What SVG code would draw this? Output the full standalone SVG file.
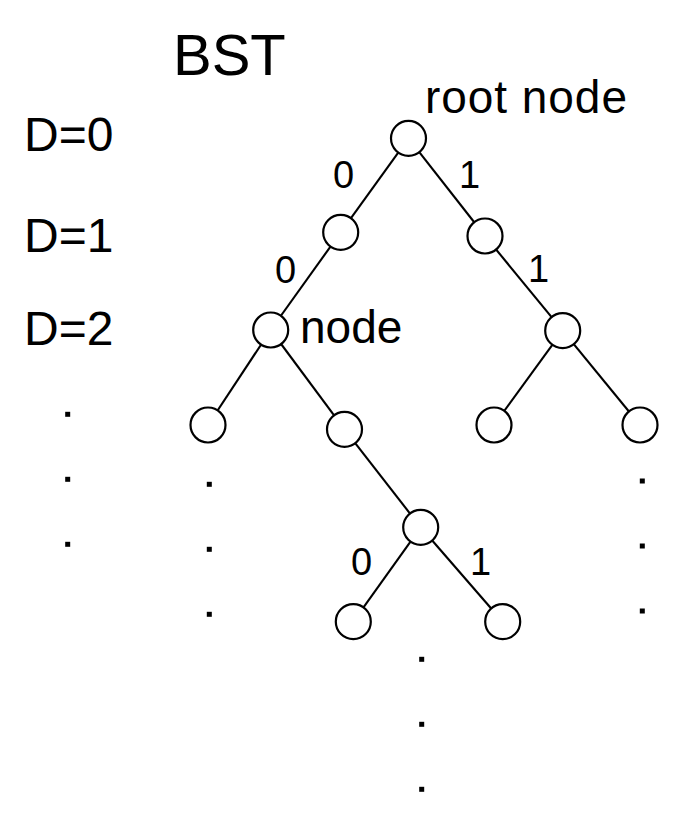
<svg xmlns="http://www.w3.org/2000/svg" width="685" height="829" viewBox="0 0 685 829">
<style>
text { font-family: "Liberation Sans", Arial, sans-serif; fill: #000; }
.big { font-size: 58px; }
.lbl { font-size: 46px; }
.depth { font-size: 48px; }
.bit { font-size: 38px; }
.node circle { fill: #fff; stroke: #000; stroke-width: 2.2; }
.edges line { stroke: #000; stroke-width: 2.1; }
.dot { fill: #000; }
</style>
<rect width="685" height="829" fill="#fff"/>
<text class="big" x="173" y="75">BST</text>
<g id="depths">
<text class="depth" x="24" y="151">D=0</text>
<text class="depth" x="24" y="252">D=1</text>
<text class="depth" x="24" y="345">D=2</text>
</g>
<g class="edges" id="connectors">
<line x1="408.5" y1="138.3" x2="340.7" y2="232.3"/>
<line x1="408.5" y1="138.3" x2="485" y2="236"/>
<line x1="340.7" y1="232.3" x2="270.7" y2="330"/>
<line x1="485" y1="236" x2="562.7" y2="330.7"/>
<line x1="270.7" y1="330" x2="208" y2="425"/>
<line x1="270.7" y1="330" x2="344.5" y2="429.3"/>
<line x1="562.7" y1="330.7" x2="494" y2="425"/>
<line x1="562.7" y1="330.7" x2="640" y2="425"/>
<line x1="344.5" y1="429.3" x2="420.7" y2="527.3"/>
<line x1="420.7" y1="527.3" x2="353.3" y2="621.7"/>
<line x1="420.7" y1="527.3" x2="502.7" y2="621.7"/>
</g>
<g id="edge-labels">
<text class="bit" x="333" y="188">0</text>
<text class="bit" x="459" y="188">1</text>
<text class="bit" x="275" y="283">0</text>
<text class="bit" x="528" y="282">1</text>
<text class="bit" x="351" y="575">0</text>
<text class="bit" x="470" y="575">1</text>
</g>
<g class="node" id="n0"><circle cx="408.5" cy="138.3" r="17.5"/><text class="lbl" x="425" y="113" textLength="202" lengthAdjust="spacing">root node</text></g>
<g class="node" id="n1"><circle cx="340.7" cy="232.3" r="17.5"/></g>
<g class="node" id="n2"><circle cx="485" cy="236" r="17.5"/></g>
<g class="node" id="n3"><circle cx="270.7" cy="330" r="17.5"/><text class="lbl" x="300" y="343">node</text></g>
<g class="node" id="n4"><circle cx="562.7" cy="330.7" r="17.5"/></g>
<g class="node" id="n5"><circle cx="208" cy="425" r="17.5"/></g>
<g class="node" id="n6"><circle cx="344.5" cy="429.3" r="17.5"/></g>
<g class="node" id="n7"><circle cx="494" cy="425" r="17.5"/></g>
<g class="node" id="n8"><circle cx="640" cy="425" r="17.5"/></g>
<g class="node" id="n9"><circle cx="420.7" cy="527.3" r="17.5"/></g>
<g class="node" id="n10"><circle cx="353.3" cy="621.7" r="17.5"/></g>
<g class="node" id="n11"><circle cx="502.7" cy="621.7" r="17.5"/></g>
<g id="dots">
<rect class="dot" x="65.2" y="411.8" width="5" height="5"/>
<rect class="dot" x="65.2" y="476.8" width="5" height="5"/>
<rect class="dot" x="65.2" y="541.8" width="5" height="5"/>
<rect class="dot" x="206.8" y="481.8" width="5" height="5"/>
<rect class="dot" x="206.8" y="546.8" width="5" height="5"/>
<rect class="dot" x="206.8" y="611.8" width="5" height="5"/>
<rect class="dot" x="419.2" y="656.8" width="5" height="5"/>
<rect class="dot" x="419.2" y="721.8" width="5" height="5"/>
<rect class="dot" x="419.2" y="786.8" width="5" height="5"/>
<rect class="dot" x="639.8" y="478.5" width="5" height="5"/>
<rect class="dot" x="639.8" y="543.5" width="5" height="5"/>
<rect class="dot" x="639.8" y="608.5" width="5" height="5"/>
</g>
</svg>
